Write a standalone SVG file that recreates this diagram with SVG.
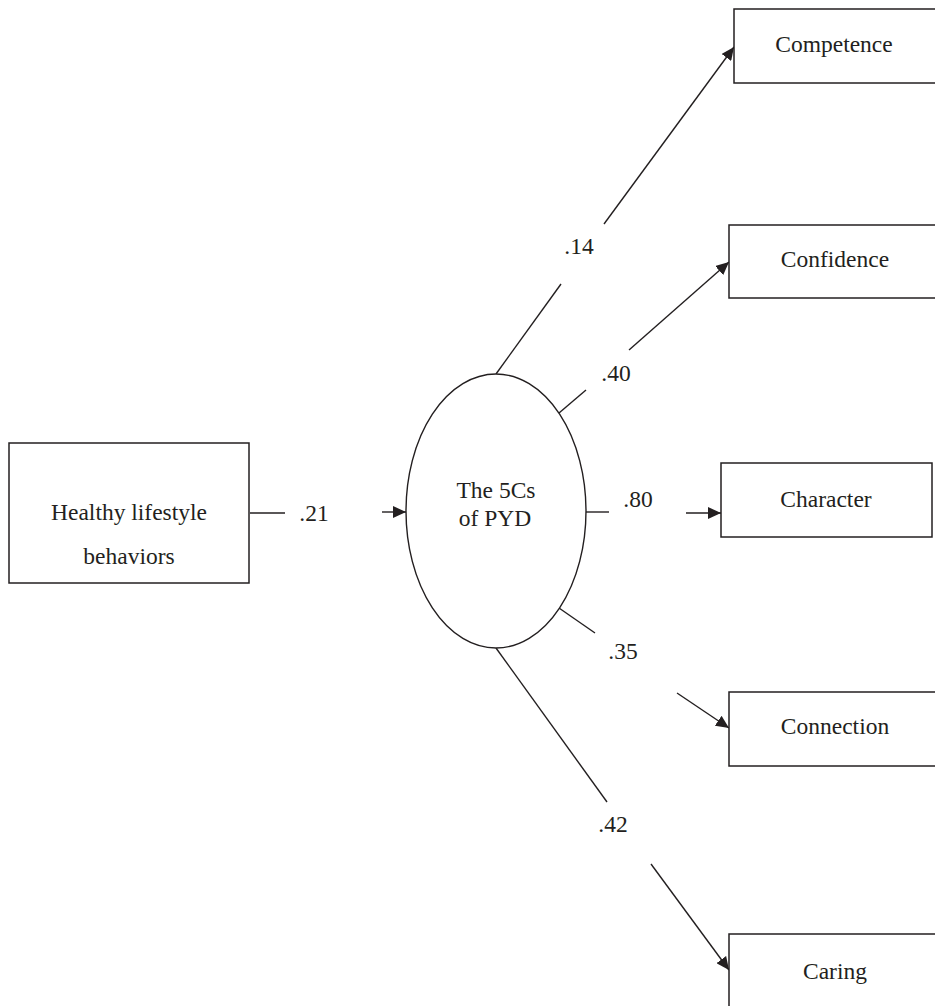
<svg xmlns="http://www.w3.org/2000/svg" width="935" height="1006" viewBox="0 0 935 1006">
  <style>
    .box { fill: #ffffff; stroke: #231f20; stroke-width: 1.5; }
    .lat { fill: #ffffff; stroke: #231f20; stroke-width: 1.4; }
    .lbl { font-family: "Liberation Serif", "Times New Roman", serif; font-size: 23.5px; fill: #231f20; text-anchor: middle; }
    .coef { font-family: "Liberation Serif", "Times New Roman", serif; font-size: 23.5px; fill: #231f20; text-anchor: middle; }
    .path { fill: none; stroke: #231f20; stroke-width: 1.4; }
    .arr { marker-end: url(#head); }
  </style>
  <defs>
    <marker id="head" markerUnits="userSpaceOnUse" markerWidth="14" markerHeight="12" viewBox="0 0 14 12" refX="13" refY="6" orient="auto">
      <path d="M0,0 L13,6 L0,12 Z" fill="#231f20"/>
    </marker>
  </defs>
  <rect width="935" height="1006" fill="#ffffff"/>

  <!-- paths and coefficients -->
  <g id="connectors">
    <line class="path" x1="250" y1="513" x2="285" y2="513"/>
    <line class="path arr" x1="382" y1="512" x2="406" y2="512"/>
    <text class="coef" x="314" y="521">.21</text>

    <line class="path" x1="496" y1="374" x2="561" y2="284"/>
    <line class="path arr" x1="604" y1="224" x2="734" y2="47"/>
    <text class="coef" x="579" y="254">.14</text>

    <line class="path" x1="559" y1="413" x2="586" y2="390"/>
    <line class="path arr" x1="629" y1="350" x2="729" y2="262"/>
    <text class="coef" x="616" y="381">.40</text>

    <line class="path" x1="586" y1="512" x2="609" y2="512"/>
    <line class="path arr" x1="686" y1="513" x2="721" y2="513"/>
    <text class="coef" x="638" y="507">.80</text>

    <line class="path" x1="559" y1="608" x2="595" y2="633"/>
    <line class="path arr" x1="677" y1="693" x2="729" y2="728"/>
    <text class="coef" x="623" y="659">.35</text>

    <line class="path" x1="496" y1="648" x2="607" y2="802"/>
    <line class="path arr" x1="651" y1="864" x2="729" y2="970"/>
    <text class="coef" x="613" y="832">.42</text>
  </g>

  <g id="healthy">
    <rect class="box" x="9" y="443" width="240" height="140"/>
    <text class="lbl" x="129" y="520">Healthy lifestyle</text>
    <text class="lbl" x="129" y="564">behaviors</text>
  </g>

  <g id="pyd">
    <ellipse class="lat" cx="496" cy="511" rx="90" ry="137"/>
    <text class="lbl" x="496" y="498">The 5Cs</text>
    <text class="lbl" x="495" y="526">of PYD</text>
  </g>

  <g id="competence">
    <rect class="box" x="734" y="9" width="220" height="74"/>
    <text class="lbl" x="834" y="52">Competence</text>
  </g>

  <g id="confidence">
    <rect class="box" x="729" y="225" width="225" height="73"/>
    <text class="lbl" x="835" y="267">Confidence</text>
  </g>

  <g id="character">
    <rect class="box" x="721" y="463" width="211" height="74"/>
    <text class="lbl" x="826" y="507">Character</text>
  </g>

  <g id="connection">
    <rect class="box" x="729" y="692" width="225" height="74"/>
    <text class="lbl" x="835" y="734">Connection</text>
  </g>

  <g id="caring">
    <rect class="box" x="729" y="934" width="225" height="90"/>
    <text class="lbl" x="835" y="979">Caring</text>
  </g>
</svg>
